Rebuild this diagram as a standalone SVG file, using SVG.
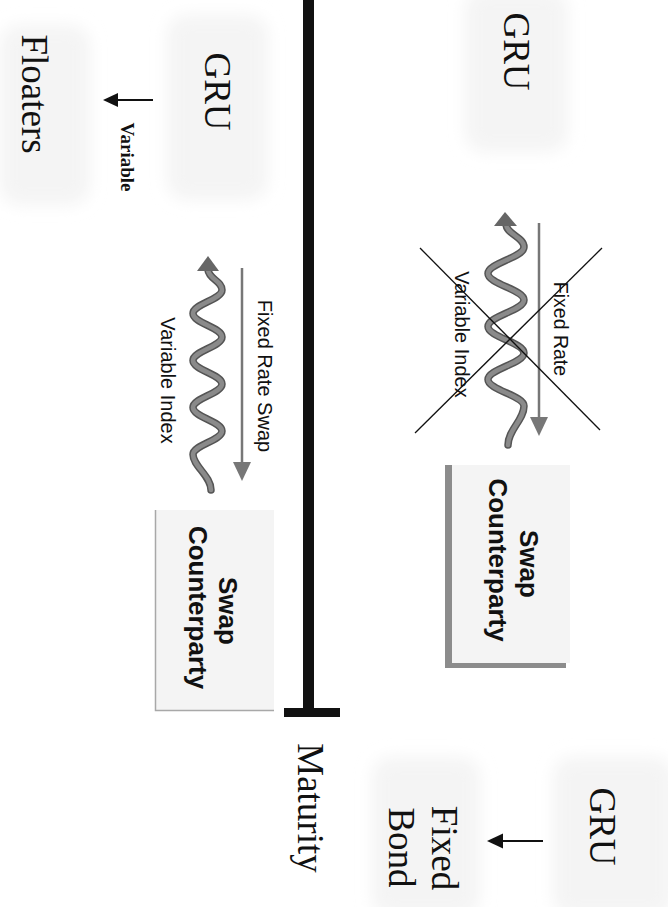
<svg xmlns="http://www.w3.org/2000/svg" width="668" height="907" viewBox="0 0 668 907">
<style>
.serif{font-family:"Liberation Serif","Times New Roman",serif;fill:#111}
.sans{font-family:"Liberation Sans",Arial,sans-serif;fill:#111}
.big{font-size:37px}
.lbl{font-size:20px}
.bold{font-weight:bold}
.shade{fill:#f4f4f4;filter:url(#soft)}
.box{fill:#f4f4f4}
.wave-o{fill:none;stroke:#555;stroke-width:7.5;stroke-linecap:round}
.wave-i{fill:none;stroke:#8a8a8a;stroke-width:4.5;stroke-linecap:round}
.garrow{stroke:#777;stroke-width:2.5}
.karrow{stroke:#111;stroke-width:1.8}
</style>
<defs>
<filter id="soft" x="-20%" y="-20%" width="140%" height="140%"><feGaussianBlur stdDeviation="8"/></filter>
</defs>
<rect width="668" height="907" fill="#fff"/>

<g id="shading">
<rect class="shade" x="465" y="-10" width="103" height="162" rx="20"/>
<rect class="shade" x="167" y="15" width="101" height="185" rx="20"/>
<rect class="shade" x="0" y="25" width="90" height="180" rx="20"/>
<rect class="shade" x="372" y="757" width="108" height="160" rx="20"/>
<rect class="shade" x="553" y="757" width="120" height="160" rx="20"/>
</g>

<g id="maturity-bar">
<rect x="303" y="0" width="11" height="716" fill="#111"/>
<rect x="284" y="708" width="56" height="9" fill="#111"/>
</g>

<g id="gru-top">
<text class="serif big" transform="rotate(90)" x="51.5" y="-503.5" text-anchor="middle">GRU</text>
</g>
<g id="gru-left">
<text class="serif big" transform="rotate(90)" x="91.5" y="-204.5" text-anchor="middle">GRU</text>
</g>
<g id="floaters">
<text class="serif big" transform="rotate(90)" x="94" y="-22" text-anchor="middle">Floaters</text>
</g>
<g id="maturity">
<text class="serif big" transform="rotate(90)" x="808" y="-298" text-anchor="middle">Maturity</text>
</g>
<g id="gru-bottom">
<text class="serif big" transform="rotate(90)" x="826.5" y="-589.5" text-anchor="middle">GRU</text>
</g>
<g id="fixed-bond">
<text class="serif big" transform="rotate(90)" x="848" y="-432" text-anchor="middle">Fixed</text>
<text class="serif big" transform="rotate(90)" x="847.5" y="-389" text-anchor="middle">Bond</text>
</g>

<g id="swap-top">
<rect class="box" x="452" y="465" width="118" height="198"/>
<rect x="445" y="465" width="7" height="203" fill="#8c8c8c"/>
<rect x="445" y="663" width="121" height="5" fill="#8c8c8c"/>
<text class="sans bold" font-size="26" transform="rotate(90)" x="564" y="-520" text-anchor="middle">Swap</text>
<text class="sans bold" font-size="26" transform="rotate(90)" x="560" y="-489" text-anchor="middle">Counterparty</text>
</g>

<g id="swap-left">
<rect class="box" x="155" y="510" width="119" height="201"/>
<path d="M155.5,510 V710.5 H274" fill="none" stroke="#a8a8a8" stroke-width="1.5"/>
<text class="sans bold" font-size="26" transform="rotate(90)" x="611" y="-219" text-anchor="middle">Swap</text>
<text class="sans bold" font-size="26" transform="rotate(90)" x="607.5" y="-189" text-anchor="middle">Counterparty</text>
</g>

<g id="connectors">
<line class="karrow" x1="153" y1="100" x2="116" y2="100"/>
<polygon points="103,100 118,93 118,107" fill="#111"/>
<line class="karrow" x1="543" y1="841" x2="501" y2="841"/>
<polygon points="487,841 503,833.5 503,848.5" fill="#111"/>

<line class="garrow" x1="539" y1="223" x2="539" y2="420"/>
<polygon points="539,436 530,417 548,417" fill="#777"/>
<line class="garrow" x1="242" y1="268" x2="242" y2="465"/>
<polygon points="242,481 233,462 251,462" fill="#777"/>

<path class="wave-o" d="M506,224 C506,234 524,237 524,247 C524,257.5 488,263 488,273.5 C488,284 524,289.5 524,300 C524,310.5 488,316 488,326.5 C488,337 524,342.5 524,353 C524,363.5 488,369 488,379.5 C488,390 524,395.5 524,406 C524,420 508,430 508,445"/>
<path class="wave-i" d="M506,224 C506,234 524,237 524,247 C524,257.5 488,263 488,273.5 C488,284 524,289.5 524,300 C524,310.5 488,316 488,326.5 C488,337 524,342.5 524,353 C524,363.5 488,369 488,379.5 C488,390 524,395.5 524,406 C524,420 508,430 508,445"/>
<polygon points="505,212 494,226 517,226" fill="#666"/>

<path class="wave-o" d="M208,270 C209,279 222,281 222,290 C222,299.5 193,304 193,313.5 C193,323 222,327.5 222,337 C222,346.5 193,351 193,360.5 C193,370 222,374.5 222,384 C222,393.5 193,398 193,407.5 C193,417 222,421.5 222,431 C222,440.5 193,445 193,454.5 C193,466 211,476 211,490"/>
<path class="wave-i" d="M208,270 C209,279 222,281 222,290 C222,299.5 193,304 193,313.5 C193,323 222,327.5 222,337 C222,346.5 193,351 193,360.5 C193,370 222,374.5 222,384 C222,393.5 193,398 193,407.5 C193,417 222,421.5 222,431 C222,440.5 193,445 193,454.5 C193,466 211,476 211,490"/>
<polygon points="208,256 197,271 219,271" fill="#666"/>

<line x1="420" y1="248" x2="600" y2="430" stroke="#111" stroke-width="1.3"/>
<line x1="415" y1="433" x2="602" y2="248" stroke="#111" stroke-width="1.3"/>
</g>

<g id="labels">
<text class="serif bold" font-size="19" transform="rotate(90)" x="157" y="-121" text-anchor="middle">Variable</text>
<text class="sans lbl" transform="rotate(90)" x="376" y="-258" text-anchor="middle">Fixed Rate Swap</text>
<text class="sans lbl" transform="rotate(90)" x="380.5" y="-161" text-anchor="middle">Variable Index</text>
<text class="sans" font-size="19.5" transform="rotate(90)" x="329" y="-554" text-anchor="middle">Fixed Rate</text>
<text class="sans lbl" transform="rotate(90)" x="334.5" y="-455" text-anchor="middle">Variable Index</text>
</g>
</svg>
